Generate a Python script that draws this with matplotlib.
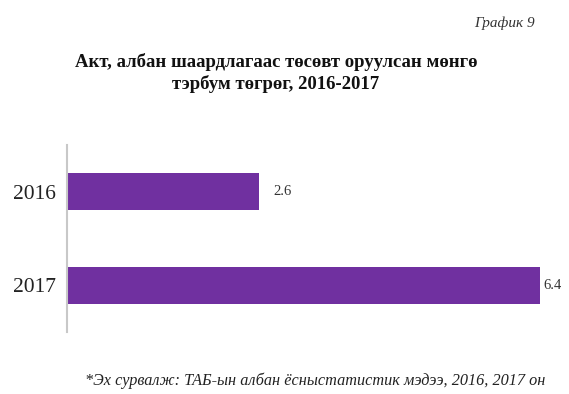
import matplotlib.pyplot as plt

plt.rcParams['font.family'] = ['Liberation Serif', 'DejaVu Serif']

years = ['2016', '2017']
values = [2.6, 6.4]
bar_color = '#7030A0'
label_gap_px = [14, 3]

fig = plt.figure(figsize=(5.69, 3.94), dpi=100)
ax = fig.add_axes([67 / 569, 1 - 332 / 394, 473 / 569, 187 / 394])

pos = list(range(len(years)))
ax.barh(pos, values, height=0.4, color=bar_color)
for p, v, g in zip(pos, values, label_gap_px):
    ax.annotate(f'{v}', (v, p), xytext=(g * 0.72, 0), textcoords='offset points',
                va='center', ha='left', fontsize=10.5, color='#333333',
                annotation_clip=False)

ax.set_yticks(pos)
ax.set_yticklabels(years, fontsize=15.5, color='#222222')
ax.tick_params(axis='y', length=0, pad=8)
ax.set_xticks([])
ax.set_xlim(0, 6.4)
ax.set_ylim(1.5, -0.5)
for s in ['top', 'right', 'bottom']:
    ax.spines[s].set_visible(False)
ax.spines['left'].set_color('#c8c8c8')
ax.spines['left'].set_linewidth(1.5)

fig.text(535 / 569, 1 - 23 / 394, 'График 9', ha='right', va='center',
         fontsize=11, style='italic', color='#333333')
fig.text(276 / 569, 1 - 73 / 394,
         'Акт, албан шаардлагаас төсөвт оруулсан мөнгө\nтэрбум төгрөг, 2016-2017',
         ha='center', va='center', fontsize=13.5, fontweight='bold',
         linespacing=1.25, color='#111111')
fig.text(545 / 569, 1 - 381 / 394,
         '*Эх сурвалж: ТАБ-ын албан ёсныстатистик мэдээ, 2016, 2017 он',
         ha='right', va='center', fontsize=11.7, style='italic', color='#222222')

fig.savefig('out.png', dpi=100)
